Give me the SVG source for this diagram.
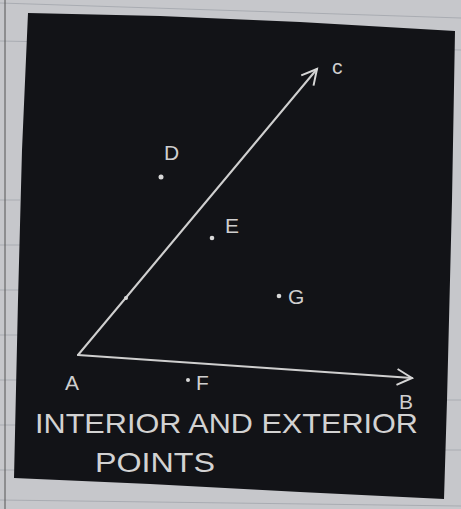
<svg xmlns="http://www.w3.org/2000/svg" width="461" height="509" viewBox="0 0 461 509">
<defs>
<marker id="arr" viewBox="0 0 20 20" refX="17" refY="10" markerWidth="20" markerHeight="20" markerUnits="userSpaceOnUse" orient="auto">
<path d="M2,2 L17,10 L2,18" fill="none" stroke="#d6d6d6" stroke-width="2"/>
</marker>
<style>
.chalk{stroke:#cfcfcf;stroke-width:2;fill:none;stroke-linecap:round}
.dot{fill:#d8d8d8}
.lbl{font-family:"Liberation Sans",Arial,sans-serif;fill:#cfcfcf;font-size:21px}
.title{font-family:"Liberation Sans",Arial,sans-serif;fill:#d2d2d2;font-size:28px}
.rule{stroke:#a9acb2;stroke-width:1}
</style>
</defs>
<rect x="0" y="0" width="461" height="509" fill="#c6c7cb"/>
<g id="paper-lines">
<line class="rule" x1="0" y1="3" x2="461" y2="18"/>
<line class="rule" x1="0" y1="41" x2="461" y2="50"/>
<line class="rule" x1="0" y1="200" x2="20" y2="200"/>
<line class="rule" x1="0" y1="245" x2="20" y2="245"/>
<line class="rule" x1="0" y1="290" x2="20" y2="290"/>
<line class="rule" x1="0" y1="335" x2="20" y2="335"/>
<line class="rule" x1="0" y1="380" x2="20" y2="380"/>
<line class="rule" x1="0" y1="425" x2="20" y2="425"/>
<line class="rule" x1="0" y1="470" x2="20" y2="470"/>
<line class="rule" x1="0" y1="500" x2="461" y2="506"/>
<line class="rule" x1="445" y1="400" x2="461" y2="400"/>
<line class="rule" x1="445" y1="450" x2="461" y2="450"/>
<line x1="5" y1="0" x2="5" y2="509" stroke="#555" stroke-width="1"/>
</g>
<polygon id="board" points="28,13 160,16 300,22 455,31 452,200 447,400 444,499 300,492 150,484 14,478 18,300 22,150" fill="#121317"/>
<g id="connectors">
<line id="ray-AC" class="chalk" x1="78" y1="355" x2="317" y2="69" marker-end="url(#arr)"/>
<line id="ray-AB" class="chalk" x1="78" y1="355" x2="412" y2="378" marker-end="url(#arr)"/>
</g>
<g id="node-A"><text class="lbl" x="65" y="390">A</text></g>
<g id="node-B"><text class="lbl" x="399" y="409">B</text></g>
<g id="node-C"><text class="lbl" x="332" y="74" font-size="16">c</text></g>
<g id="node-AC-point"><circle class="dot" cx="126" cy="298" r="2"/></g>
<g id="node-D"><circle class="dot" cx="161" cy="177" r="2.5"/><text class="lbl" x="164" y="160" font-size="27">D</text></g>
<g id="node-E"><circle class="dot" cx="212" cy="238" r="2.3"/><text class="lbl" x="225" y="233" font-size="23">E</text></g>
<g id="node-G"><circle class="dot" cx="279" cy="296" r="2.3"/><text class="lbl" x="288" y="304" font-size="20">G</text></g>
<g id="node-F"><circle class="dot" cx="188" cy="380" r="2"/><text class="lbl" x="196" y="390" font-size="19">F</text></g>
<g id="caption">
<text class="title" x="35" y="433" textLength="383" lengthAdjust="spacingAndGlyphs">INTERIOR AND EXTERIOR</text>
<text class="title" x="95" y="472" textLength="120" lengthAdjust="spacingAndGlyphs">POINTS</text>
</g>
</svg>
